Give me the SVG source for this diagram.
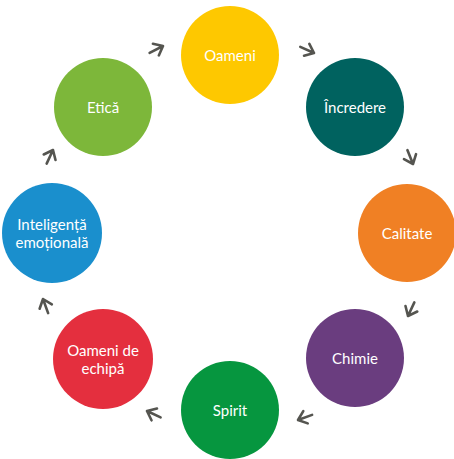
<svg xmlns="http://www.w3.org/2000/svg" width="454" height="459" viewBox="0 0 454 459">
<style>
.n text{font-family:Lato,"Noto Sans",sans-serif;font-size:15px;fill:#fff;text-anchor:middle;dominant-baseline:central}
.a{fill:none;stroke:#555550;stroke-width:2.6;stroke-linecap:round;stroke-linejoin:round}
</style>
<defs>
<path id="arr" d="M-15,0 L0,0 M-8,-6.5 L0,0 L-8,6.5"/>
</defs>
<rect width="454" height="459" fill="#fff"/>
<g id="connectors" class="a">
<use href="#arr" transform="translate(163,46) rotate(-27)"/>
<use href="#arr" transform="translate(314,53) rotate(24)"/>
<use href="#arr" transform="translate(413,164) rotate(68)"/>
<use href="#arr" transform="translate(408,316) rotate(115)"/>
<use href="#arr" transform="translate(298,420) rotate(160)"/>
<use href="#arr" transform="translate(147,411) rotate(205)"/>
<use href="#arr" transform="translate(43,299) rotate(250)"/>
<use href="#arr" transform="translate(53,150) rotate(-65)"/>
</g>
<g id="oameni" class="n"><circle cx="230" cy="55" r="49" fill="#FEC800"/><text x="230" y="55">Oameni</text></g>
<g id="incredere" class="n"><circle cx="355" cy="107" r="49" fill="#00625F"/><text x="355" y="107">Încredere</text></g>
<g id="calitate" class="n"><circle cx="407" cy="233" r="49" fill="#F08024"/><text x="407" y="233">Calitate</text></g>
<g id="chimie" class="n"><circle cx="355" cy="358" r="49" fill="#6A3D7F"/><text x="355" y="358">Chimie</text></g>
<g id="spirit" class="n"><circle cx="230" cy="410" r="49" fill="#06963F"/><text x="230" y="410">Spirit</text></g>
<g id="oameni-echipa" class="n"><circle cx="103" cy="359" r="50" fill="#E42F3E"/><text x="103" y="350">Oameni de</text><text x="103" y="368">echipă</text></g>
<g id="inteligenta" class="n"><circle cx="52" cy="233" r="50" fill="#1A8FCD"/><text x="52" y="224">Inteligență</text><text x="52" y="242">emoțională</text></g>
<g id="etica" class="n"><circle cx="103" cy="107" r="49" fill="#7DB73A"/><text x="103" y="107">Etică</text></g>
</svg>
